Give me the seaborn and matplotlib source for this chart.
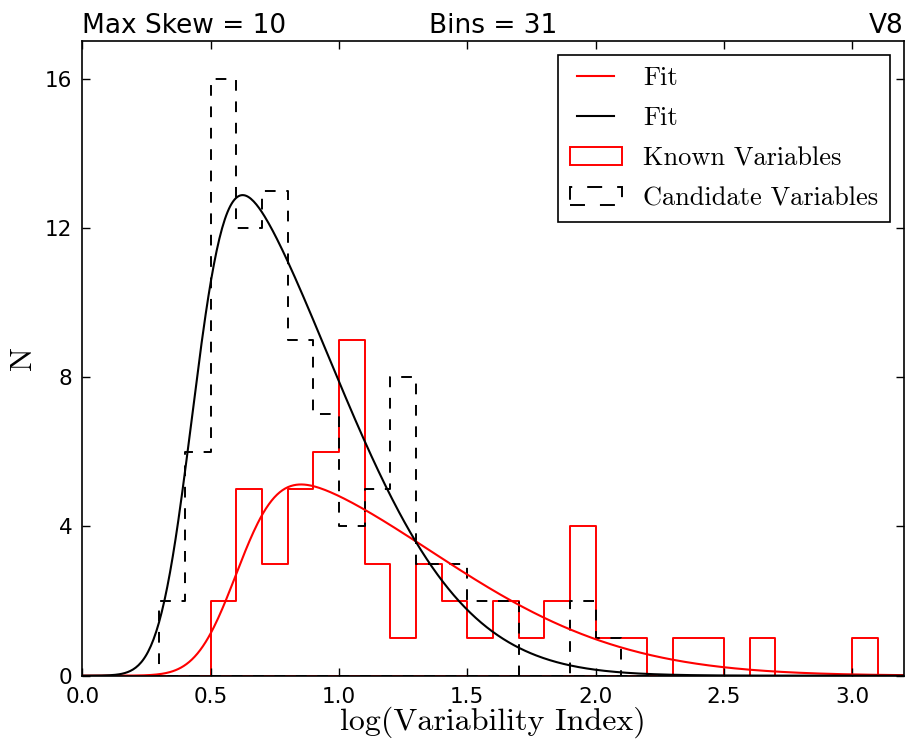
import math

import matplotlib
matplotlib.use("Agg")
import matplotlib.pyplot as plt
import numpy as np
import seaborn as sns

# Histogram binning: 31 bins of width 0.1 starting at 0
bin_start = 0.0
bin_width = 0.1
n_bins = 31

# Counts per bin (0.0-0.1, 0.1-0.2, ..., 3.0-3.1)
known_counts = [0, 0, 0, 0, 0, 2, 5, 3, 5, 6,
                9, 3, 1, 3, 2, 1, 2, 1, 2, 4,
                1, 1, 0, 1, 1, 0, 1, 0, 0, 0,
                1]
candidate_counts = [0, 0, 0, 2, 6, 16, 12, 13, 9, 7,
                    4, 5, 8, 3, 3, 2, 2, 0, 0, 2,
                    1, 0, 0, 0, 0, 0, 0, 0, 0, 0,
                    0]

# Skew-normal fit parameters: amplitude (area), location, scale, skewness
known_fit = dict(amp=5.21, loc=0.6025, scale=0.75, skew=6.0)
candidate_fit = dict(amp=9.34, loc=0.431, scale=0.523, skew=5.0)

title_left = "Max Skew = 10"
title_center = "Bins = 31"
title_right = "V8"
x_label = "log(Variability Index)"
y_label = "N"
x_ticks = [0.0, 0.5, 1.0, 1.5, 2.0, 2.5, 3.0]
y_ticks = [0, 4, 8, 12, 16]

_erf = np.vectorize(math.erf)


def skew_normal(x, amp, loc, scale, skew):
    z = (x - loc) / scale
    pdf = np.exp(-0.5 * z ** 2) / np.sqrt(2 * np.pi)
    cdf = 0.5 * (1.0 + _erf(skew * z / np.sqrt(2)))
    return amp * 2.0 * pdf * cdf / scale


edges = (bin_start + bin_width * np.arange(n_bins + 1)).tolist()
centers = [(a + b) / 2 for a, b in zip(edges[:-1], edges[1:])]

fig = plt.figure(figsize=(9.07, 7.47), dpi=100)
ax = fig.add_axes([0.0907, 0.0955, 0.9056, 0.8492])

xs = np.linspace(0.0, 3.2, 600)

sns.lineplot(x=xs, y=skew_normal(xs, **known_fit), color="#ff0000",
             linewidth=1.5, ax=ax)
fit_known = ax.lines[-1]
sns.lineplot(x=xs, y=skew_normal(xs, **candidate_fit), color="black",
             linewidth=1.5, ax=ax)
fit_cand = ax.lines[-1]

sns.histplot(x=centers, weights=known_counts, bins=edges, element="step",
             fill=True, color="#ff0000", facecolor="none",
             edgecolor="#ff0000", linewidth=1.4, ax=ax)
hist_known = ax.collections[-1]
sns.histplot(x=centers, weights=candidate_counts, bins=edges, element="step",
             fill=True, color="black", facecolor="none", edgecolor="black",
             linewidth=1.4, linestyle=(0, (5.5, 5.5)), ax=ax)
hist_cand = ax.collections[-1]

ax.set_xlim(0.0, 3.2)
ax.set_ylim(0, 17)
ax.set_xticks(x_ticks)
ax.set_xticklabels([f"{t:.1f}" for t in x_ticks])
ax.set_yticks(y_ticks)
ax.tick_params(direction="in", top=True, right=True, length=6, width=1,
               labelsize=15.5)
ax.tick_params(axis="x", pad=8)
ax.tick_params(axis="y", pad=7)
for sp in ax.spines.values():
    sp.set_linewidth(1.2)
    sp.set_color("black")

ax.set_xlabel(x_label, family="cmr10", fontsize=23, labelpad=0)
ax.set_ylabel(y_label, family="cmr10", fontsize=23, labelpad=6)

ax.set_title(title_left, loc="left", fontsize=19, pad=6)
ax.set_title(title_center, loc="center", fontsize=19, pad=6)
ax.set_title(title_right, loc="right", fontsize=19, pad=6)

leg = ax.legend(handles=[fit_known, fit_cand, hist_known, hist_cand],
                labels=["Fit", "Fit", "Known Variables", "Candidate Variables"],
                loc="upper right", prop={"family": "cmr10", "size": 19},
                numpoints=2, handlelength=2.0, handleheight=0.7,
                handletextpad=0.8, borderpad=0.45, labelspacing=0.62,
                borderaxespad=0.5, fancybox=False, framealpha=1.0)
leg.get_frame().set_edgecolor("black")
leg.get_frame().set_linewidth(1.2)

fig.savefig("out.png", dpi=100, facecolor="white")
